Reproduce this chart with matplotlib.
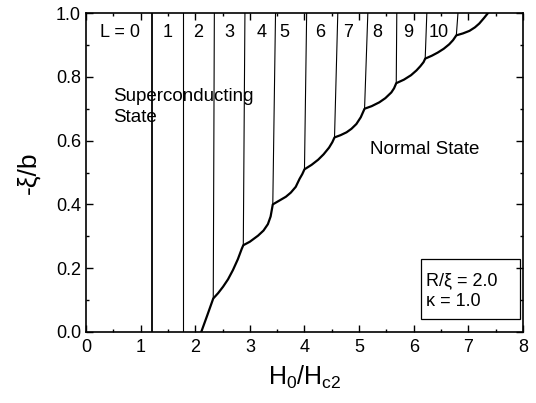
import matplotlib.pyplot as plt
from matplotlib.ticker import MultipleLocator
from matplotlib.patches import Rectangle

plt.rcParams['font.family'] = ['Liberation Sans', 'DejaVu Sans']
plt.rcParams['mathtext.fontset'] = 'custom'
plt.rcParams['mathtext.rm'] = 'Liberation Sans'
plt.rcParams['mathtext.it'] = 'Liberation Sans'

# phase boundary superconducting / normal
curve_h = [2.11, 2.22, 2.33, 2.42, 2.51, 2.60, 2.69, 2.78, 2.85, 2.88, 3.00, 3.15, 3.25,
           3.33, 3.38, 3.42, 3.57, 3.66, 3.75, 3.84, 3.91, 3.96, 4.00, 4.13, 4.25, 4.35,
           4.45, 4.51, 4.55, 4.66, 4.77, 4.86, 4.95, 5.03, 5.10, 5.23, 5.37, 5.48, 5.59,
           5.64, 5.68, 5.82, 5.95, 6.05, 6.12, 6.18, 6.21, 6.33, 6.44, 6.55, 6.65, 6.72,
           6.78, 6.90, 7.02, 7.12, 7.20, 7.29, 7.36]
curve_y = [0.00, 0.052, 0.105, 0.122, 0.142, 0.165, 0.194, 0.228, 0.26, 0.272, 0.283, 0.302, 0.318,
           0.338, 0.362, 0.40, 0.415, 0.424, 0.437, 0.455, 0.48, 0.495, 0.51, 0.524, 0.54, 0.557,
           0.578, 0.595, 0.61, 0.617, 0.626, 0.637, 0.652, 0.673, 0.70, 0.708, 0.72, 0.733, 0.751,
           0.764, 0.78, 0.791, 0.805, 0.82, 0.833, 0.846, 0.857, 0.866, 0.876, 0.888, 0.902, 0.915,
           0.93, 0.936, 0.944, 0.955, 0.967, 0.985, 1.0]

# L -> L+1 transition lines
trans_bot_h = [1.20, 1.77, 2.33, 2.88, 3.42, 4.00, 4.55, 5.10, 5.68, 6.21, 6.78]
trans_top_h = [1.20, 1.77, 2.35, 2.91, 3.47, 4.04, 4.61, 5.16, 5.69, 6.24, 6.81]
trans_bot_y = [0.0, 0.0, 0.105, 0.272, 0.40, 0.51, 0.61, 0.70, 0.78, 0.857, 0.93]

L_labels = ['L = 0', '1', '2', '3', '4', '5', '6', '7', '8', '9', '10']
L_label_h = [0.62, 1.49, 2.05, 2.63, 3.21, 3.64, 4.28, 4.80, 5.34, 5.89, 6.46]

fig = plt.figure(figsize=(5.36, 4.03), dpi=100)
ax = fig.add_axes([0.1604, 0.1762, 0.8153, 0.7915])

for i in range(len(trans_bot_h)):
    lw = 1.3 if i == 0 else 0.8
    ax.plot([trans_bot_h[i], trans_top_h[i]], [trans_bot_y[i], 1.0], color='black', lw=lw)

ax.plot(curve_h, curve_y, color='black', lw=1.6)

for lab, hx in zip(L_labels, L_label_h):
    ax.text(hx, 0.94, lab, ha='center', va='center', fontsize=13)

ax.text(0.49, 0.725, 'Superconducting', ha='left', va='baseline', fontsize=13.5)
ax.text(0.49, 0.657, 'State', ha='left', va='baseline', fontsize=13.5)
ax.text(5.20, 0.558, 'Normal State', ha='left', va='baseline', fontsize=13.5)

# parameter box
ax.add_patch(Rectangle((6.14, 0.04), 1.81, 0.19, fill=False, ec='black', lw=0.9, zorder=3))
ax.text(6.23, 0.147, 'R/ξ = 2.0', ha='left', va='baseline', fontsize=13)
ax.text(6.23, 0.081, 'κ = 1.0', ha='left', va='baseline', fontsize=13)

ax.set_xlim(0, 8)
ax.set_ylim(0, 1.0)
ax.xaxis.set_major_locator(MultipleLocator(1))
ax.xaxis.set_minor_locator(MultipleLocator(0.5))
ax.yaxis.set_major_locator(MultipleLocator(0.2))
ax.yaxis.set_minor_locator(MultipleLocator(0.1))
ax.yaxis.set_major_formatter(plt.FormatStrFormatter('%.1f'))
ax.tick_params(which='both', direction='in', top=True, right=True, labelsize=13, width=1)
ax.tick_params(axis='x', which='major', pad=5)
ax.tick_params(which='major', length=5)
ax.tick_params(which='minor', length=2.5)
for s in ax.spines.values():
    s.set_linewidth(1.2)

ax.set_xlabel(r'H$_0$/H$_{\mathregular{c2}}$', fontsize=18, labelpad=6)
ax.set_ylabel('-ξ/b', fontsize=19, labelpad=11)

fig.savefig('out.png', dpi=100)
